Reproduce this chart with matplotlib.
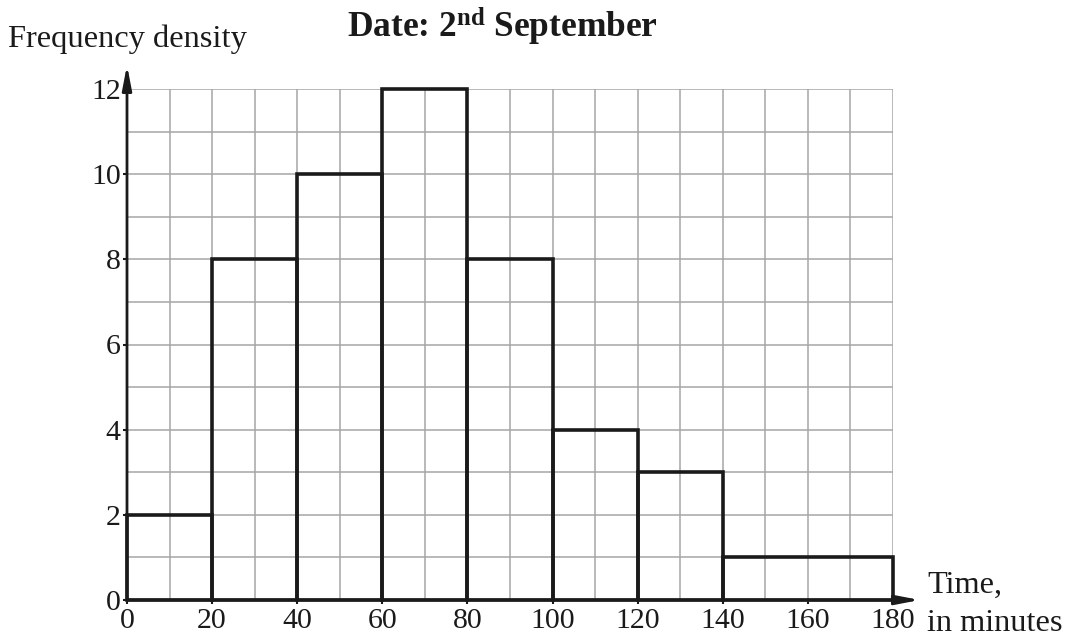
import matplotlib
matplotlib.use("Agg")
import matplotlib.pyplot as plt
import numpy as np

plt.rcParams['font.family'] = ['Liberation Serif', 'DejaVu Serif']
plt.rcParams['mathtext.fontset'] = 'custom'
plt.rcParams['mathtext.rm'] = 'Liberation Serif'
plt.rcParams['mathtext.bf'] = 'Liberation Serif:bold'
plt.rcParams['mathtext.it'] = 'Liberation Serif:italic'

# Data
bin_edges = [0, 20, 40, 60, 80, 100, 120, 140, 180]
freq_density = [2, 8, 10, 12, 8, 4, 3, 1]
x_ticks = [0, 20, 40, 60, 80, 100, 120, 140, 160, 180]
y_ticks = [0, 2, 4, 6, 8, 10, 12]

fig = plt.figure(figsize=(10.73, 6.37), dpi=100)
ax = fig.add_axes([127/1073, 1-600/637, (893-127)/1073, (600-89)/637])

ax.set_xlim(0, 180)
ax.set_ylim(0, 12)

# grid
ax.set_xticks(np.arange(0, 181, 10), minor=True)
ax.set_yticks(np.arange(0, 13, 1), minor=True)
ax.grid(which='minor', color='#a6a6a6', linewidth=1.1)
ax.grid(which='major', color='#a6a6a6', linewidth=1.1)
ax.set_axisbelow(True)

edges = np.array(bin_edges)
widths = np.diff(edges)
ax.bar(edges[:-1], freq_density, width=widths, align='edge', fill=False,
       edgecolor='#1a1a1a', linewidth=2.6, zorder=3, clip_on=False)

for s in ax.spines.values():
    s.set_visible(False)

ax.set_xticks(x_ticks)
ax.set_yticks(y_ticks)
ax.set_xticklabels([str(v) for v in x_ticks])
ax.set_yticklabels([str(v) for v in y_ticks])
ax.tick_params(which='major', direction='out', length=3, width=1.5, labelsize=21.5,
               color='#1a1a1a', labelcolor='#1a1a1a', pad=1.5)
ax.tick_params(axis='x', which='major', pad=3)
ax.tick_params(which='minor', length=0)

# axes with arrows
arrow_style = '-|>,head_length=1.45,head_width=0.28'
ax.annotate('', xy=(0, 12.56), xytext=(0, 0),
            arrowprops=dict(arrowstyle=arrow_style, lw=2,
                            color='#1a1a1a', shrinkA=0, shrinkB=0),
            annotation_clip=False, zorder=4)
ax.annotate('', xy=(186.3, 0), xytext=(0, 0),
            arrowprops=dict(arrowstyle=arrow_style, lw=2,
                            color='#1a1a1a', shrinkA=0, shrinkB=0),
            annotation_clip=False, zorder=4)

fig.text(8/1073, 1-47/637, 'Frequency density', fontsize=23.4, ha='left', va='baseline',
         color='#1a1a1a')
fig.text(502/1073, 1-37/637, r'Date: 2$^{\mathbf{nd}}$ September', fontsize=25.5,
         fontweight='bold', ha='center', va='baseline', color='#1a1a1a')
fig.text(927/1073, 1-593/637, 'Time,', fontsize=23.3, ha='left', va='baseline',
         color='#1a1a1a')
fig.text(927/1073, 1-631/637, 'in minutes', fontsize=23.3, ha='left', va='baseline',
         color='#1a1a1a')

fig.savefig('out.png', dpi=100)
